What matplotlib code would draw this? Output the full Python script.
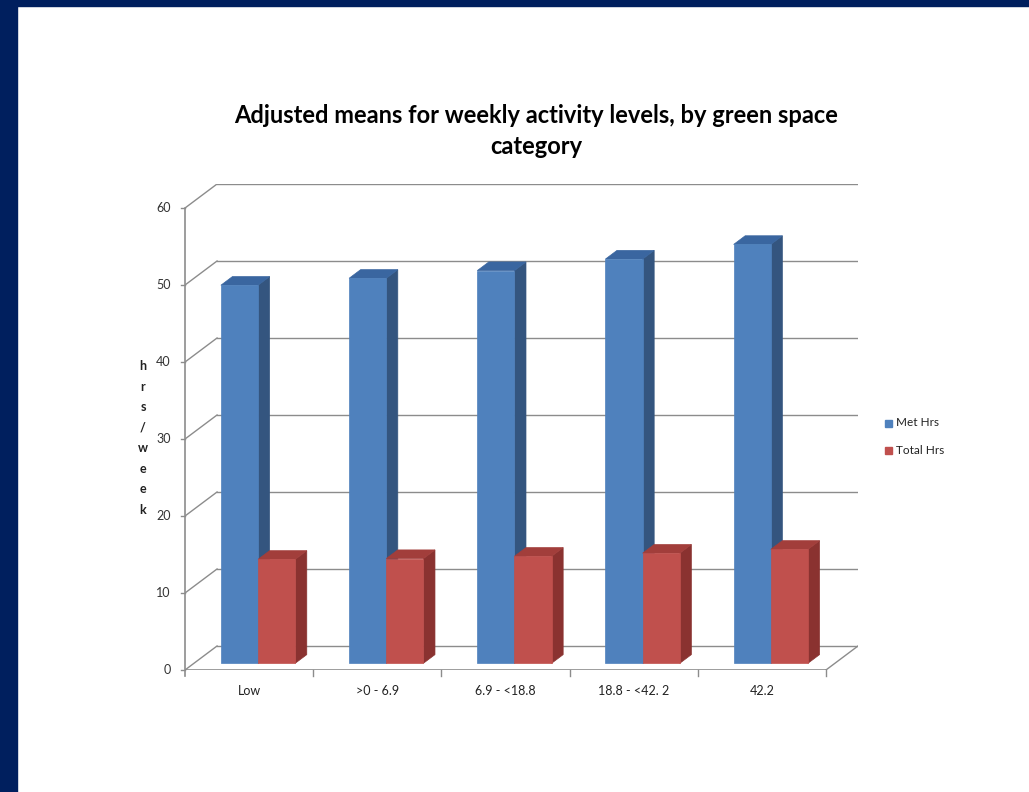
import matplotlib.pyplot as plt
from matplotlib.patches import Polygon, Rectangle

categories = ["Low", ">0 - 6.9", "6.9 - <18.8", "18.8 - <42. 2", "42.2"]
met_hrs = [49.1, 50.0, 51.0, 52.5, 54.4]
total_hrs = [13.5, 13.6, 13.9, 14.3, 14.8]
series_names = ["Met Hrs", "Total Hrs"]

# face colours: front, side, top
blue = ("#4f81bd", "#34557f", "#3a66a0")
red = ("#c0504d", "#8a3230", "#a23e3b")
grid_col = "#8c8c8c"

plt.rcParams['font.family'] = ['Lato', 'DejaVu Sans']

fig = plt.figure(figsize=(10.29, 7.92), dpi=100)
fig.patch.set_facecolor("white")
# navy frame on the top and left
fig.patches.append(Rectangle((0, 0), 17 / 1029, 1, transform=fig.transFigure,
                             color="#001f5e", zorder=0))
fig.patches.append(Rectangle((0, 1 - 6 / 792), 1, 6 / 792, transform=fig.transFigure,
                             color="#001f5e", zorder=0))

ax = fig.add_axes([185 / 1029, 122 / 792, 673 / 1029, 486 / 792])
ax.set_xlim(0, 5.25)
ax.set_ylim(0, 63.12)
ax.axis("off")

# oblique depth of the chart box
dx, dy = 0.25, 3.12
# bar placement within the depth
f0, fd = 0.28, 0.36
w = 0.29
n = len(categories)

# back wall gridlines + left wall diagonals
for v in range(0, 70, 10):
    ax.plot([dx, n + dx], [v + dy, v + dy], color=grid_col, lw=1, zorder=1)
    ax.plot([0, dx], [v, v + dy], color=grid_col, lw=1, zorder=1)
    ax.plot([-0.035, 0], [v, v], color=grid_col, lw=1, zorder=1, clip_on=False)
    ax.text(-0.11, v, str(v), ha="right", va="center", fontsize=9, color="#333333")

# floor edges and front axes
ax.plot([0, n], [0, 0], color=grid_col, lw=1.2, zorder=1)
ax.plot([n, n + dx], [0, dy], color=grid_col, lw=1, zorder=1)
ax.plot([0, 0], [-0.8, 60], color=grid_col, lw=1.2, zorder=1, clip_on=False)
for i in range(1, n + 1):
    ax.plot([i, i], [0, -0.8], color=grid_col, lw=1, zorder=1, clip_on=False)
for i, lab in enumerate(categories):
    ax.text(i + 0.5, -2.0, lab, ha="center", va="top", fontsize=9, color="#222222")


def bar3d(x0, h, cols, z):
    bx, by = x0 + f0 * dx, f0 * dy
    sx, sy = fd * dx, fd * dy
    front = Rectangle((bx, by), w, h, facecolor=cols[0], edgecolor=cols[0], lw=0.5, zorder=z)
    side = Polygon([(bx + w, by), (bx + w + sx, by + sy), (bx + w + sx, by + h + sy),
                    (bx + w, by + h)], facecolor=cols[1], edgecolor=cols[1], lw=0.5, zorder=z)
    top = Polygon([(bx, by + h), (bx + sx, by + h + sy), (bx + w + sx, by + h + sy),
                   (bx + w, by + h)], facecolor=cols[2], edgecolor=cols[2], lw=0.5, zorder=z)
    for p in (side, top, front):
        ax.add_patch(p)


for i in range(n):
    bar3d(i + 0.5 - w, met_hrs[i], blue, 3 + 2 * i)
    bar3d(i + 0.5, total_hrs[i], red, 4 + 2 * i)

fig.text(536 / 1029, 1 - 131 / 792, "Adjusted means for weekly activity levels, by green space\ncategory",
         ha="center", va="center", fontsize=17, fontweight="bold", linespacing=1.38,
         color="#000000")

fig.text(143 / 1029, 1 - 438 / 792, "h\nr\ns\n/\nw\ne\ne\nk", ha="center", va="center",
         fontsize=9, fontweight="bold", linespacing=1.85, color="#222222")

for j, (name, c) in enumerate(zip(series_names, (blue[0], red[0]))):
    yy = 1 - (423 + 27 * j) / 792
    fig.patches.append(Rectangle((885 / 1029, yy - 3.5 / 792), 7 / 1029, 7 / 792,
                                 transform=fig.transFigure, color=c))
    fig.text(896 / 1029, yy, name, ha="left", va="center", fontsize=8.5, color="#222222")

fig.savefig("out.png", dpi=100)
